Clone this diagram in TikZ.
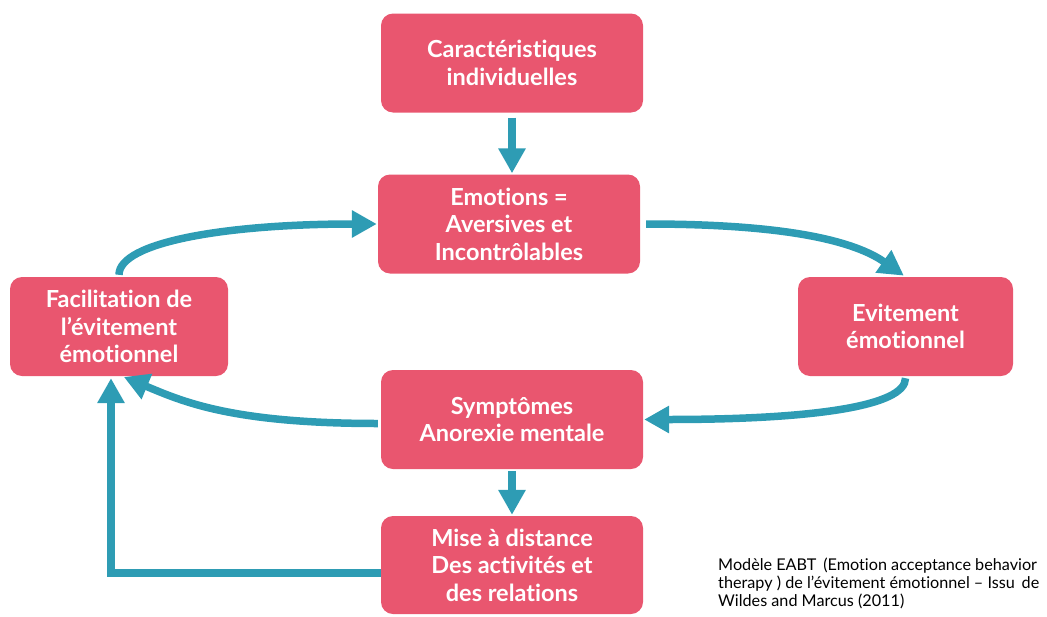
\documentclass[tikz,border=0pt]{standalone}
\usepackage{fontspec}
\setmainfont{Lato}[Ligatures=NoCommon]
\usetikzlibrary{arrows.meta}
\definecolor{boxpink}{HTML}{E9566F}
\definecolor{flowteal}{HTML}{2E9CB4}

\begin{document}
\begin{tikzpicture}[x=1pt,y=-1pt]
\tikzstyle{every node}+=[inner sep=0pt]
\tikzstyle{box}=[fill=boxpink, rounded corners=12pt, minimum width=262pt, minimum height=99pt, align=center, text=white, font=\fontsize{23.5}{27.5}\selectfont\bfseries]
\tikzstyle{flow}=[draw=flowteal, line width=7.5pt, -{Triangle[length=25pt,width=26pt]}]
\useasboundingbox (0,0) rectangle (1047,616);
\draw (512,63) node [box] (cara) {Caractéristiques\\individuelles};
\draw (509,224) node [box] (emo) {Emotions =\\Aversives et\\Incontrôlables};
\draw (119,326.5) node [box, minimum width=218pt] (faci) {Facilitation de\\l’évitement\\émotionnel};
\draw (905.5,326.5) node [box, minimum width=215pt] (evit) {Evitement\\émotionnel};
\draw (512,419.5) node [box] (symp) {Symptômes\\Anorexie mentale};
\draw (512,565) node [box, minimum height=98pt] (mise) {Mise à distance\\Des activités et\\des relations};
\draw (718,558) node [anchor=north west, align=left, font=\fontsize{16.2}{18}\selectfont] (note) {Modèle EABT \,(Emotion acceptance behavior\\therapy ) de l’évitement émotionnel – Issu \,de\\Wildes and Marcus (2011)};
% fleches
\draw [flow, shorten <=5pt, shorten >=1pt] (cara.south) -- (cara.south |- emo.north);
\draw [flow, shorten <=2pt, shorten >=1pt] (symp.south) -- (mise.north);
\draw [flow, shorten <=2pt, shorten >=1pt] (faci.north) .. controls +(0,-35) and +(-150,0) .. (emo.west);
\draw [flow, shorten <=6pt, shorten >=2pt] (emo.east) .. controls +(150,0) and +(-50,-35) .. (evit.north);
\draw [flow, shorten <=2pt, shorten >=1pt] (evit.south) .. controls +(0,30) and +(170,0) .. (symp.east);
\draw [flow, shorten <=3pt, shorten >=2pt] ([yshift=-4pt]symp.west) .. controls +(-150,0) and +(60,25) .. ([xshift=3pt]faci.south);
\draw [flow, shorten >=2pt] ([yshift=-8pt]mise.west) -| ([xshift=-8pt]faci.south);
\end{tikzpicture}
\end{document}
